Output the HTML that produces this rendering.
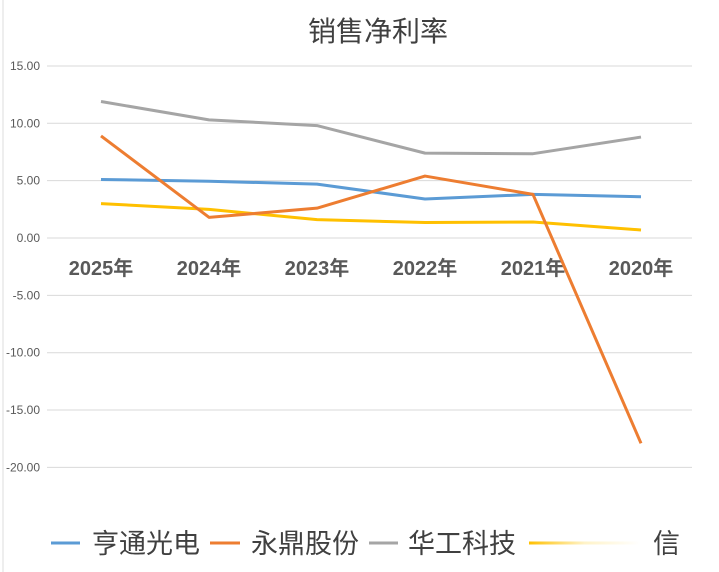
<!DOCTYPE html>
<html><head><meta charset="utf-8"><style>
body{margin:0;background:#fff;}
svg{display:block;font-family:"Liberation Sans","Noto Sans CJK SC",sans-serif;}
</style></head><body>
<svg id="c" width="719" height="572">
<defs><linearGradient id="fade" gradientUnits="userSpaceOnUse" x1="529" x2="640" y1="0" y2="0"><stop offset="0" stop-color="#ffc000"/><stop offset="0.5" stop-color="#fff3c8"/><stop offset="1" stop-color="#fff"/></linearGradient></defs>
<rect x="0" y="0" width="719" height="572" fill="#fff"/>
<line x1="3" y1="0" x2="3" y2="572" stroke="#ddd"/>
<text x="378" y="41" font-size="28" text-anchor="middle" fill="#404040">销售净利率</text>
<g id="grid"></g><g id="cats"></g><g id="series"></g>
<g id="legend"></g>
</svg>
<script>
const categories=["2025年","2024年","2023年","2022年","2021年","2020年"];
const yTicks=[15,10,5,0,-5,-10,-15,-20];
const seriesNames=["亨通光电","永鼎股份","华工科技","信"];
const hengtong=[5.1,4.95,4.7,3.4,3.8,3.6];
const yongding=[8.9,1.8,2.6,5.4,3.8,-17.9];
const huagong=[11.9,10.3,9.8,7.4,7.35,8.8];
const xin=[3.0,2.5,1.6,1.35,1.4,0.7];
const NS="http://www.w3.org/2000/svg";
const y=v=>238-v*11.47;
const x=i=>47+108*i+54;
function mk(t,a,p){const e=document.createElementNS(NS,t);for(const k in a)e.setAttribute(k,a[k]);p.appendChild(e);return e;}
const grid=document.getElementById('grid');
yTicks.forEach(v=>{
 const l=mk('line',{x1:47,x2:692,y1:y(v),y2:y(v),stroke:'#d9d9d9','stroke-width':1},grid);
 
 
 const t=mk('text',{x:40,y:y(v)+4,'font-size':12,'text-anchor':'end',fill:'#595959'},grid);
 t.textContent=v.toFixed(2);
 
 
});
const cats=document.getElementById('cats');
categories.forEach((c,i)=>{
 const t=mk('text',{x:x(i),y:275,'font-size':20,'font-weight':'bold','text-anchor':'middle',fill:'#595959'},cats);
 t.textContent=c;
 
 
});
const colors=["#5b9bd5","#ed7d31","#a5a5a5","#ffc000"];
const data=[hengtong,yongding,huagong,xin];
const sg=document.getElementById('series');
[2,0,3,1].forEach(k=>{
 const p=mk('polyline',{points:data[k].map((v,i)=>x(i)+','+y(v)).join(' '),fill:'none',stroke:colors[k],'stroke-width':3,'stroke-linejoin':'round'},sg);
 
 
});
const lg=document.getElementById('legend');
const lx=[51,210,369,529];const lw=[29,30,29,111];const tx=[92,251,408,653];
seriesNames.forEach((n,k)=>{
 const l=mk('rect',{x:lx[k],y:541.5,width:lw[k],height:3,fill:k===3?'url(#fade)':colors[k]},lg);
 
 
 const t=mk('text',{x:tx[k],y:553,'font-size':27,fill:'#404040'},lg);
 t.textContent=n;
 
 
});
</script>
</body></html>
